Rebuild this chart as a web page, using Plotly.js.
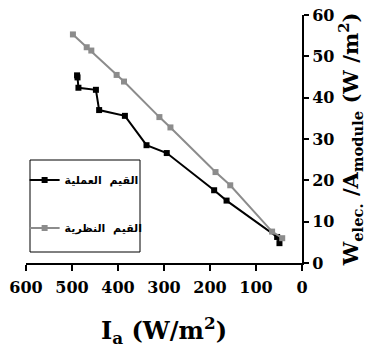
<!DOCTYPE html>
<html>
<head>
<meta charset="utf-8">
<script src="https://cdn.plot.ly/plotly-3.0.1.min.js"></script>
<style>
  html, body { margin: 0; padding: 0; background: #fff; }
</style>
</head>
<body>
<div id="chart"></div>
<script>
// Irradiance I_a (W/m2) and electrical output per module area (W/m2)
const measuredI = [489, 488, 486, 448, 441, 385, 338, 294, 191, 164, 54, 49];
const measuredW = [45.4, 44.9, 42.4, 41.9, 37.0, 35.6, 28.5, 26.6, 17.6, 15.1, 6.3, 4.8];

const theoryI = [498, 468, 458, 403, 387, 310, 286, 188, 156, 65, 43];
const theoryW = [55.3, 52.2, 51.4, 45.5, 43.9, 35.3, 32.8, 22.0, 18.8, 7.6, 6.0];

const seriesNames = ['القيم  العملية', 'القيم  النظرية'];

const xTicks = [600, 500, 400, 300, 200, 100, 0];
const yTicks = [0, 10, 20, 30, 40, 50, 60];

const serif = 'DejaVu Serif';

const traces = [
  {
    x: measuredI, y: measuredW, name: seriesNames[0],
    type: 'scatter', mode: 'lines+markers', legendgroup: 'a',
    line: { color: '#000000', width: 2 },
    marker: { symbol: 'square', size: 6, color: '#000000' }
  },
  {
    x: theoryI, y: theoryW, name: seriesNames[1],
    type: 'scatter', mode: 'lines+markers', legendgroup: 'b',
    line: { color: '#8c8c8c', width: 2 },
    marker: { symbol: 'square', size: 6, color: '#8c8c8c' }
  }
];

const layout = {
  width: 384, height: 358,
  margin: { l: 26, r: 82, t: 15, b: 95 },
  paper_bgcolor: '#ffffff', plot_bgcolor: '#ffffff',
  showlegend: true,
  legend: {
    x: -0.005, y: 0.393, xanchor: 'left', yanchor: 'top',
    bgcolor: 'rgba(0,0,0,0)', borderwidth: 0,
    itemwidth: 30, tracegroupgap: 29,
    font: { family: 'DejaVu Sans', size: 11, color: '#000', weight: 'bold' }
  },
  shapes: [
    { type: 'rect', xref: 'paper', yref: 'paper',
      x0: (30 - 26) / 276, x1: (140 - 26) / 276,
      y0: (263 - 252) / 248, y1: (263 - 160) / 248,
      line: { color: '#000', width: 1 }, fillcolor: 'rgba(0,0,0,0)' }
  ],
  xaxis: {
    range: [600, 0], tickvals: xTicks, ticktext: xTicks.map(String),
    showgrid: false, zeroline: false,
    showline: true, linecolor: '#000', linewidth: 2,
    ticks: 'outside', ticklen: 6, tickwidth: 2, tickcolor: '#000',
    ticklabelstandoff: 3,
    tickfont: { family: serif, size: 16, color: '#000', weight: 'bold' },
    title: { text: 'I<sub>a</sub> (W/m<sup>2</sup>)', standoff: 26,
      font: { family: serif, size: 24, color: '#000', weight: 'bold' } }
  },
  yaxis: {
    range: [0, 60], side: 'right', tickvals: yTicks, ticktext: yTicks.map(String),
    showgrid: false, zeroline: false,
    showline: true, linecolor: '#000', linewidth: 2,
    ticks: 'outside', ticklen: 5, tickwidth: 2, tickcolor: '#000',
    tickfont: { family: serif, size: 16, color: '#000', weight: 'bold' },
    title: { text: 'W<sub>elec.</sub> /A<sub>module</sub> (W /m<sup>2</sup>)', standoff: 10,
      font: { family: serif, size: 21, color: '#000', weight: 'bold' } }
  }
};

Plotly.newPlot('chart', traces, layout, { displayModeBar: false, staticPlot: true });
</script>
</body>
</html>
